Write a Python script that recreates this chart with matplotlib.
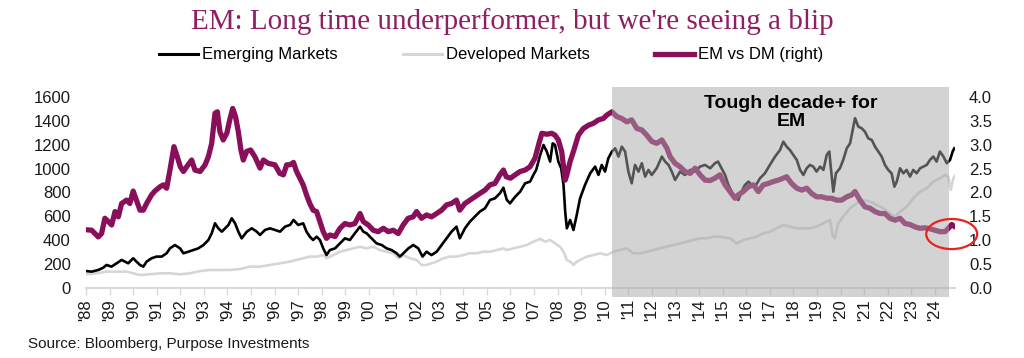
import matplotlib
matplotlib.use("Agg")
import matplotlib.pyplot as plt
import matplotlib.transforms as mtrans
from matplotlib.patches import Rectangle, Ellipse
from matplotlib.lines import Line2D

plt.rcParams['font.family'] = ['Liberation Sans', 'DejaVu Sans']

# ---------------- data ----------------
em_years = [1988.0, 1988.24, 1988.52, 1988.73, 1988.87, 1989.08, 1989.3, 1989.51, 1989.65, 1989.79,
            1990.0, 1990.14, 1990.29, 1990.43, 1990.57, 1990.78, 1990.99, 1991.21, 1991.42, 1991.56,
            1991.77, 1991.99, 1992.13, 1992.34, 1992.55, 1992.76, 1992.98, 1993.19, 1993.33, 1993.47,
            1993.61, 1993.76, 1993.9, 1994.04, 1994.18, 1994.32, 1994.46, 1994.6, 1994.82, 1995.03,
            1995.24, 1995.38, 1995.59, 1995.8, 1996.01, 1996.23, 1996.44, 1996.65, 1996.8, 1997.0,
            1997.21, 1997.35, 1997.49, 1997.63, 1997.78, 1997.92, 1998.06, 1998.2, 1998.34, 1998.56,
            1998.77, 1998.98, 1999.19, 1999.4, 1999.62, 1999.76, 1999.9, 2000.11, 2000.32, 2000.54,
            2000.75, 2000.96, 2001.17, 2001.31, 2001.46, 2001.67, 2001.88, 2002.09, 2002.27, 2002.44,
            2002.65, 2002.87, 2003.08, 2003.29, 2003.5, 2003.71, 2003.85, 2004.07, 2004.28, 2004.49,
            2004.7, 2004.92, 2005.13, 2005.34, 2005.55, 2005.7, 2005.84, 2005.98, 2006.2, 2006.41,
            2006.62, 2006.83, 2006.97, 2007.09, 2007.26, 2007.4, 2007.54, 2007.68, 2007.79, 2007.89,
            2008.03, 2008.15, 2008.25, 2008.32, 2008.39, 2008.53, 2008.67, 2008.81, 2008.95, 2009.16,
            2009.38, 2009.59, 2009.73, 2009.87, 2010.01, 2010.15, 2010.3, 2010.44, 2010.58, 2010.72,
            2010.86, 2011.0, 2011.14, 2011.28, 2011.43, 2011.57, 2011.71, 2011.85, 2011.99, 2012.2,
            2012.42, 2012.56, 2012.7, 2012.84, 2012.98, 2013.19, 2013.4, 2013.62, 2013.83, 2014.04,
            2014.25, 2014.47, 2014.67, 2014.8, 2014.95, 2015.1, 2015.24, 2015.38, 2015.52, 2015.66,
            2015.8, 2015.94, 2016.09, 2016.23, 2016.37, 2016.58, 2016.79, 2017.0, 2017.22, 2017.43,
            2017.57, 2017.71, 2017.85, 2017.99, 2018.14, 2018.28, 2018.42, 2018.56, 2018.7, 2018.84,
            2018.98, 2019.13, 2019.27, 2019.41, 2019.52, 2019.58, 2019.69, 2019.8, 2019.97, 2020.11,
            2020.26, 2020.4, 2020.51, 2020.61, 2020.75, 2020.89, 2021.03, 2021.17, 2021.32, 2021.46,
            2021.6, 2021.74, 2021.88, 2022.02, 2022.16, 2022.28, 2022.38, 2022.52, 2022.66, 2022.8,
            2022.94, 2023.08, 2023.22, 2023.37, 2023.51, 2023.65, 2023.79, 2023.93, 2024.07, 2024.21,
            2024.36, 2024.5, 2024.64, 2024.75, 2024.82]
em_values = [142, 137, 151, 170, 193, 179, 207, 235, 221, 207,
             249, 221, 193, 179, 221, 249, 263, 263, 291, 332,
             360, 332, 291, 304, 318, 332, 360, 402, 458, 542,
             500, 472, 500, 528, 584, 542, 472, 416, 472, 500,
             472, 444, 486, 500, 486, 472, 514, 528, 570, 528,
             542, 472, 430, 402, 430, 402, 332, 276, 318, 332,
             374, 416, 402, 458, 514, 472, 458, 416, 374, 360,
             332, 318, 291, 263, 291, 332, 360, 332, 263, 304,
             276, 304, 360, 416, 472, 514, 416, 500, 556, 598,
             640, 668, 737, 751, 793, 840, 740, 709, 765, 807,
             877, 891, 947, 989, 1115, 1198, 1143, 1059, 1212, 1198,
             1059, 1003, 863, 640, 500, 570, 486, 612, 751, 863,
             961, 1017, 947, 1031, 975, 1087, 1143, 1170, 1101, 1184,
             1143, 975, 877, 1031, 975, 1045, 933, 989, 947, 1003,
             1101, 1059, 1031, 975, 905, 975, 947, 989, 975, 1017,
             1031, 1003, 1045, 1059, 1003, 947, 863, 807, 765, 737,
             807, 863, 891, 863, 849, 919, 961, 1031, 1101, 1156,
             1226, 1184, 1156, 1115, 1073, 989, 947, 1003, 1031, 1017,
             975, 1017, 989, 1115, 1143, 1017, 807, 961, 1003, 1073,
             1170, 1212, 1324, 1422, 1352, 1338, 1310, 1254, 1240, 1184,
             1143, 1101, 1031, 989, 961, 849, 891, 1003, 961, 989,
             933, 989, 961, 1003, 1017, 1031, 1073, 1101, 1059, 1143,
             1101, 1045, 1073, 1143, 1170]

dm_years = [1988.0, 1988.45, 1988.87, 1989.3, 1989.72, 1990.0, 1990.29, 1990.71, 1991.14, 1991.56,
            1991.99, 1992.41, 1992.84, 1993.26, 1993.69, 1994.11, 1994.53, 1994.96, 1995.38, 1995.8,
            1996.23, 1996.65, 1996.93, 1997.21, 1997.49, 1997.78, 1998.06, 1998.2, 1998.48, 1998.77,
            1999.05, 1999.33, 1999.62, 1999.9, 2000.18, 2000.47, 2000.75, 2001.03, 2001.24, 2001.45,
            2001.74, 2002.02, 2002.23, 2002.44, 2002.65, 2002.87, 2003.15, 2003.44, 2003.72, 2004.0,
            2004.28, 2004.57, 2004.85, 2005.13, 2005.42, 2005.7, 2005.84, 2006.13, 2006.41, 2006.69,
            2006.97, 2007.26, 2007.47, 2007.68, 2007.89, 2008.1, 2008.25, 2008.39, 2008.53, 2008.67,
            2008.81, 2008.95, 2009.24, 2009.52, 2009.8, 2010.08, 2010.37, 2010.65, 2010.93, 2011.21,
            2011.5, 2011.78, 2012.06, 2012.35, 2012.63, 2012.91, 2013.19, 2013.48, 2013.76, 2014.04,
            2014.32, 2014.6, 2014.88, 2015.31, 2015.59, 2015.87, 2016.16, 2016.44, 2016.72, 2017.0,
            2017.29, 2017.57, 2017.85, 2018.14, 2018.42, 2018.7, 2018.98, 2019.27, 2019.55, 2019.66,
            2019.75, 2019.9, 2020.11, 2020.4, 2020.68, 2020.96, 2021.25, 2021.53, 2021.81, 2022.09,
            2022.3, 2022.52, 2022.8, 2023.08, 2023.37, 2023.65, 2023.93, 2024.21, 2024.43, 2024.57,
            2024.67, 2024.78, 2024.85]
dm_values = [115, 123, 137, 137, 137, 123, 109, 115, 123, 123,
             115, 123, 142, 151, 151, 151, 159, 179, 179, 193,
             207, 221, 235, 249, 263, 263, 276, 249, 276, 304,
             318, 332, 346, 332, 346, 318, 304, 291, 249, 276,
             249, 235, 193, 193, 207, 221, 249, 263, 263, 276,
             291, 291, 304, 304, 318, 332, 318, 332, 346, 360,
             388, 411, 388, 402, 374, 346, 304, 235, 221, 193,
             221, 235, 263, 276, 291, 276, 304, 318, 332, 291,
             291, 304, 318, 332, 346, 360, 374, 388, 402, 416,
             416, 430, 430, 416, 374, 402, 416, 430, 458, 472,
             500, 528, 514, 500, 500, 500, 514, 542, 570, 444,
             416, 542, 598, 668, 709, 737, 723, 695, 668, 626,
             598, 640, 682, 751, 807, 835, 891, 919, 947, 933,
             821, 919, 940]

ratio_years = [1988.0, 1988.24, 1988.52, 1988.66, 1988.8, 1988.95, 1989.09, 1989.23, 1989.37, 1989.51,
               1989.72, 1989.86, 1990.0, 1990.14, 1990.29, 1990.43, 1990.57, 1990.78, 1990.92, 1991.14,
               1991.28, 1991.42, 1991.56, 1991.73, 1991.87, 1992.0, 1992.13, 1992.27, 1992.48, 1992.62,
               1992.84, 1993.05, 1993.19, 1993.33, 1993.47, 1993.57, 1993.68, 1993.82, 1993.97, 1994.11,
               1994.22, 1994.34, 1994.46, 1994.57, 1994.67, 1994.81, 1994.98, 1995.16, 1995.38, 1995.52,
               1995.73, 1996.01, 1996.22, 1996.37, 1996.51, 1996.65, 1996.8, 1996.92, 1997.0, 1997.21,
               1997.35, 1997.49, 1997.63, 1997.78, 1997.92, 1998.06, 1998.2, 1998.34, 1998.56, 1998.77,
               1998.98, 1999.19, 1999.4, 1999.62, 1999.76, 1999.97, 2000.18, 2000.39, 2000.61, 2000.82,
               2001.03, 2001.24, 2001.45, 2001.66, 2001.87, 2002.02, 2002.23, 2002.44, 2002.65, 2002.87,
               2003.08, 2003.29, 2003.5, 2003.71, 2003.85, 2004.07, 2004.28, 2004.49, 2004.7, 2004.92,
               2005.13, 2005.34, 2005.55, 2005.7, 2005.82, 2006.0, 2006.2, 2006.41, 2006.62, 2006.83,
               2007.04, 2007.23, 2007.33, 2007.54, 2007.75, 2007.89, 2008.03, 2008.17, 2008.32, 2008.39,
               2008.53, 2008.67, 2008.88, 2009.09, 2009.31, 2009.52, 2009.73, 2009.94, 2010.08, 2010.3,
               2010.51, 2010.72, 2010.93, 2011.14, 2011.36, 2011.57, 2011.78, 2011.99, 2012.2, 2012.42,
               2012.63, 2012.77, 2012.98, 2013.19, 2013.4, 2013.62, 2013.83, 2014.04, 2014.25, 2014.47,
               2014.67, 2014.88, 2015.1, 2015.31, 2015.52, 2015.66, 2015.87, 2016.09, 2016.3, 2016.51,
               2016.72, 2016.93, 2017.15, 2017.36, 2017.57, 2017.71, 2017.92, 2018.14, 2018.35, 2018.56,
               2018.77, 2018.98, 2019.2, 2019.41, 2019.62, 2019.83, 2020.04, 2020.26, 2020.47, 2020.61,
               2020.82, 2021.03, 2021.25, 2021.46, 2021.67, 2021.88, 2022.09, 2022.31, 2022.52, 2022.73,
               2022.94, 2023.15, 2023.37, 2023.58, 2023.79, 2024.0, 2024.21, 2024.43, 2024.57, 2024.71,
               2024.85]
ratio_values = [1.22, 1.21, 1.07, 1.14, 1.46, 1.39, 1.32, 1.60, 1.49, 1.77,
                1.84, 1.77, 2.03, 1.84, 1.63, 1.63, 1.77, 1.95, 2.03, 2.12,
                2.16, 2.09, 2.47, 2.96, 2.75, 2.54, 2.44, 2.54, 2.68, 2.47,
                2.44, 2.58, 2.75, 3.03, 3.66, 3.69, 3.27, 3.10, 3.24, 3.55,
                3.76, 3.59, 3.27, 2.89, 2.68, 2.86, 2.89, 2.75, 2.51, 2.68,
                2.61, 2.58, 2.40, 2.37, 2.58, 2.58, 2.63, 2.45, 2.37, 2.16,
                1.95, 1.77, 1.63, 1.60, 1.39, 1.18, 1.04, 1.11, 1.08, 1.25,
                1.35, 1.32, 1.35, 1.56, 1.39, 1.32, 1.21, 1.18, 1.25, 1.18,
                1.21, 1.14, 1.32, 1.46, 1.49, 1.60, 1.46, 1.53, 1.49, 1.56,
                1.63, 1.74, 1.77, 1.84, 1.63, 1.77, 1.84, 1.91, 1.98, 2.05,
                2.16, 2.19, 2.37, 2.47, 2.33, 2.30, 2.37, 2.44, 2.47, 2.54,
                2.72, 3.07, 3.24, 3.22, 3.24, 3.20, 3.10, 2.86, 2.26, 2.37,
                2.65, 2.86, 3.20, 3.34, 3.41, 3.45, 3.52, 3.55, 3.62, 3.69,
                3.59, 3.55, 3.48, 3.52, 3.34, 3.31, 3.20, 3.07, 3.03, 3.10,
                2.93, 2.75, 2.61, 2.54, 2.44, 2.40, 2.51, 2.37, 2.26, 2.25,
                2.30, 2.37, 2.16, 2.02, 1.88, 1.95, 2.02, 2.12, 2.16, 2.02,
                2.16, 2.19, 2.23, 2.26, 2.30, 2.33, 2.19, 2.09, 2.05, 2.09,
                1.98, 1.91, 1.91, 1.88, 1.88, 1.84, 1.84, 1.91, 1.95, 2.02,
                1.84, 1.70, 1.67, 1.60, 1.56, 1.56, 1.46, 1.42, 1.46, 1.35,
                1.33, 1.28, 1.25, 1.26, 1.24, 1.21, 1.18, 1.18, 1.25, 1.33,
                1.28]

tick_years = list(range(1988, 2025))
tick_labels = ["'" + str(y)[2:] for y in tick_years]
left_ticks = [0, 200, 400, 600, 800, 1000, 1200, 1400, 1600]
right_ticks = [0.0, 0.5, 1.0, 1.5, 2.0, 2.5, 3.0, 3.5, 4.0]

shade_start, shade_end = 2010.3, 2024.6
blip_center = (2024.71, 1.13)

title = "EM: Long time underperformer, but we're seeing a blip"
source = "Source: Bloomberg, Purpose Investments"
annotation = "Tough decade+ for\nEM"

# ---------------- style ----------------
PURPLE = '#8a0f5a'
TITLE_PURPLE = '#8e1f63'
BLACK = '#000000'
LIGHT = '#d6d6d6'
AXIS_GRAY = '#d9d9d9'

W, H = 1024, 358
fig = plt.figure(figsize=(W / 100, H / 100), dpi=100)
ax_left_px, ax_right_px, ax_top_px, ax_bot_px = 86, 955, 97, 288
ax = fig.add_axes([ax_left_px / W, 1 - ax_bot_px / H,
                   (ax_right_px - ax_left_px) / W, (ax_bot_px - ax_top_px) / H])
ax2 = ax.twinx()

ax.plot(dm_years, dm_values, color=LIGHT, lw=1.9, zorder=2, solid_joinstyle='round')
ax.plot(em_years, em_values, color=BLACK, lw=1.9, zorder=3, solid_joinstyle='round')
ax2.plot(ratio_years, ratio_values, color=PURPLE, lw=3.8, zorder=3, solid_joinstyle='round',
         solid_capstyle='round')

ax.set_xlim(1988, 2024.85)
ax.set_ylim(0, 1600)
ax2.set_ylim(0, 4.0)

ax.set_yticks(left_ticks)
ax.set_yticklabels([str(v) for v in left_ticks])
ax2.set_yticks(right_ticks)
ax2.set_yticklabels([f"{v:.1f}" for v in right_ticks])
ax.set_xticks(tick_years)
ax.set_xticklabels(tick_labels, rotation=90)

for a in (ax, ax2):
    for s in a.spines.values():
        s.set_visible(False)
ax.spines['bottom'].set_visible(True)
ax.spines['bottom'].set_color(AXIS_GRAY)
ax.spines['bottom'].set_linewidth(1.5)

ax.tick_params(axis='y', length=0, pad=11, labelsize=12, labelcolor='#1a1a1a')
ax2.tick_params(axis='y', length=0, pad=10, labelsize=12, labelcolor='#1a1a1a')
ax.tick_params(axis='x', length=5, width=1, color=AXIS_GRAY, pad=3, labelsize=12,
               labelcolor='#1a1a1a', direction='out')

# shaded region drawn over the lines
trans = mtrans.blended_transform_factory(ax2.transData, ax2.transAxes)
y0 = (ax_bot_px - 297) / (ax_bot_px - ax_top_px)
y1 = (ax_bot_px - 87) / (ax_bot_px - ax_top_px)
rect = Rectangle((shade_start, y0), shade_end - shade_start, y1 - y0, transform=trans,
                 facecolor='#a8a8a8', alpha=0.5, edgecolor='none', zorder=6, clip_on=False)
ax2.add_patch(rect)

ax2.text(2017.9, 1 - (102 - ax_top_px + 10.5) / (ax_bot_px - ax_top_px), annotation,
         transform=trans, ha='center', va='center', fontsize=14, fontweight='bold',
         linespacing=1.05, zorder=7)

ell = Ellipse(blip_center, width=2.16, height=0.63, facecolor='none', edgecolor='#e8231e',
              lw=1.6, zorder=8, clip_on=False)
ax2.add_patch(ell)

fig.text(0.5, 1 - 22 / H, title, ha='center', va='center', fontsize=21,
         family='Liberation Serif', color=TITLE_PURPLE)

handles = [Line2D([], [], color=BLACK, lw=2.2),
           Line2D([], [], color=LIGHT, lw=2.2),
           Line2D([], [], color=PURPLE, lw=3.8)]
fig.legend(handles, ['Emerging Markets', 'Developed Markets', 'EM vs DM (right)'],
           loc='center', bbox_to_anchor=(491 / W, 1 - 55 / H), ncol=3, frameon=False,
           fontsize=12, handlelength=2.35, handletextpad=0.25, columnspacing=3.9,
           borderpad=0, borderaxespad=0)

fig.text(28 / W, 1 - 344 / H, source, ha='left', va='center', fontsize=11, color='#1a1a1a')

fig.savefig('out.png', dpi=100)
